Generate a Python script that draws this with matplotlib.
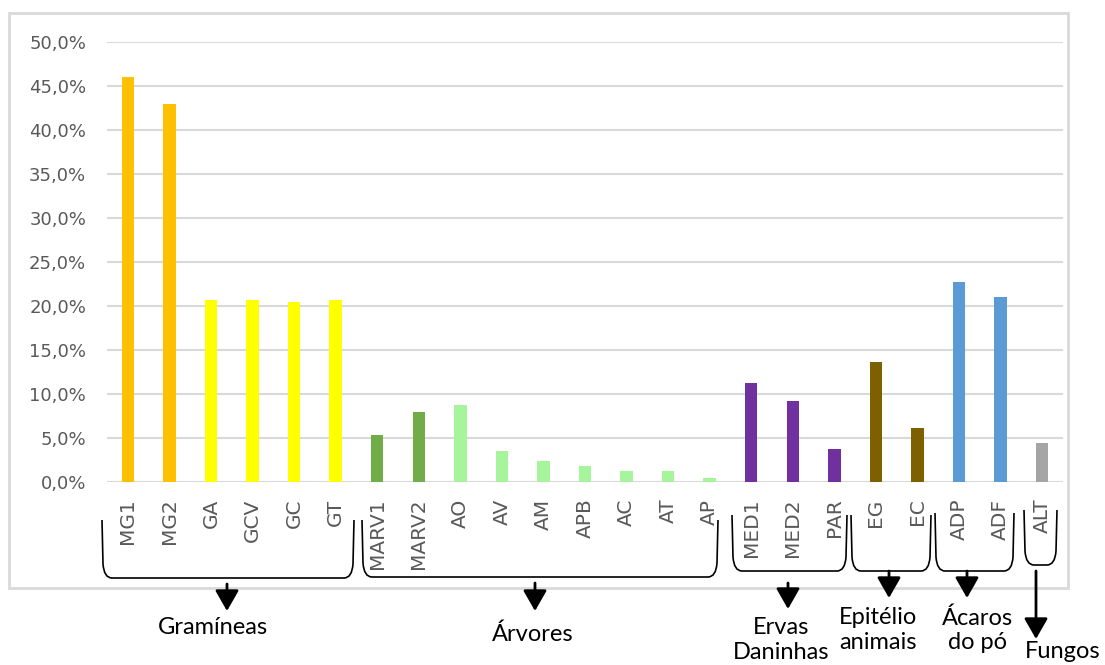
import numpy as np
import matplotlib
matplotlib.use('Agg')
import matplotlib.pyplot as plt
from matplotlib.patches import Rectangle, PathPatch, FancyArrowPatch
from matplotlib.path import Path
from matplotlib.transforms import Affine2D
from matplotlib.ticker import FuncFormatter

# categorias e valores (%)
categorias = ['MG1', 'MG2', 'GA', 'GCV', 'GC', 'GT',
              'MARV1', 'MARV2', 'AO', 'AV', 'AM', 'APB', 'AC', 'AT', 'AP',
              'MED1', 'MED2', 'PAR', 'EG', 'EC', 'ADP', 'ADF', 'ALT']
valores = [46.0, 43.0, 20.7, 20.7, 20.4, 20.7,
           5.3, 7.9, 8.8, 3.5, 2.4, 1.8, 1.2, 1.2, 0.5,
           11.2, 9.2, 3.8, 13.6, 6.1, 22.7, 21.0, 4.4]
cores = ['#FFC000'] * 2 + ['#FFFF00'] * 4 + ['#70AD47'] * 2 + ['#A6F59C'] * 7 \
    + ['#7030A0'] * 3 + ['#7F6000'] * 2 + ['#5B9BD5'] * 2 + ['#A5A5A5']

grupos = ['Gramíneas', 'Árvores', 'Ervas\nDaninhas', 'Epitélio\nanimais', 'Ácaros\ndo pó', 'Fungos']

W, H = 1105, 665
fig = plt.figure(figsize=(W / 100, H / 100), dpi=100)
ax = fig.add_axes([107 / W, 1 - 482 / H, (1063 - 107) / W, (482 - 42) / H])

x = np.arange(len(categorias))
ax.bar(x, valores, width=0.3, color=cores, zorder=3)

ax.set_xlim(-0.5, len(categorias) - 0.5)
ax.set_ylim(0, 50)
ax.set_yticks(np.arange(0, 51, 5))
ax.yaxis.set_major_formatter(FuncFormatter(lambda v, p: f'{v:.1f}%'.replace('.', ',')))
ax.set_xticks(x)
ax.set_xticklabels(categorias, rotation=90, va='top')
ax.tick_params(axis='both', length=0, labelcolor='#595959')
ax.tick_params(axis='y', pad=15, labelsize=13)
ax.tick_params(axis='x', pad=12, labelsize=14.5)
ax.grid(axis='y', color='#D9D9D9', linewidth=1.5, zorder=0)
for s in ax.spines.values():
    s.set_visible(False)

# coordenadas em pixels da figura (origem no canto superior esquerdo)
px = Affine2D().scale(1 / W, -1 / H).translate(0, 1) + fig.transFigure

# moldura
fig.add_artist(Rectangle((9, 13), 1059, 575, transform=px, fill=False,
                         edgecolor='#D9D9D9', linewidth=2))

# chaves: (esquerda, direita, topo, base)
chaves = [(102, 354, 520, 578), (362, 718, 520, 577), (732, 847, 515, 571),
          (851, 931, 515, 571), (935, 1014, 513, 571), (1024, 1057, 510, 565)]
for x0, x1, y0, y1 in chaves:
    verts = [(x0, y0), (x0 + 1, y1 - 14), (x0 + 2, y1), (x0 + 10, y1),
             (x1 - 10, y1), (x1 - 2, y1), (x1 - 1, y1 - 14), (x1, y0)]
    codes = [Path.MOVETO, Path.LINETO, Path.CURVE3, Path.CURVE3,
             Path.LINETO, Path.CURVE3, Path.CURVE3, Path.LINETO]
    fig.add_artist(PathPatch(Path(verts, codes), transform=px, fill=False,
                             edgecolor='black', linewidth=1.2))

# setas: (x, inicio, fim)
setas = [(227, 584, 611), (535, 583, 611), (788, 583, 609),
         (889, 571, 598), (967, 571, 598), (1036, 571, 639)]
for xs, ya, yb in setas:
    fig.add_artist(FancyArrowPatch((xs, ya), (xs, yb), transform=px,
                                   arrowstyle='-|>,head_length=0.7,head_width=0.4',
                                   mutation_scale=18, color='black', linewidth=2,
                                   shrinkA=0, shrinkB=0))

# rótulos dos grupos: (x, y do centro)
pos_rotulos = [(213, 628), (533, 634), (781, 640), (878, 630), (977, 630), (1063, 652)]
for nome, (xt, yt) in zip(grupos, pos_rotulos):
    fig.text(xt / W, 1 - yt / H, nome, ha='center', va='center', fontsize=17,
             family='Lato', linespacing=1.2, color='black')

fig.savefig('out.png', dpi=100)
